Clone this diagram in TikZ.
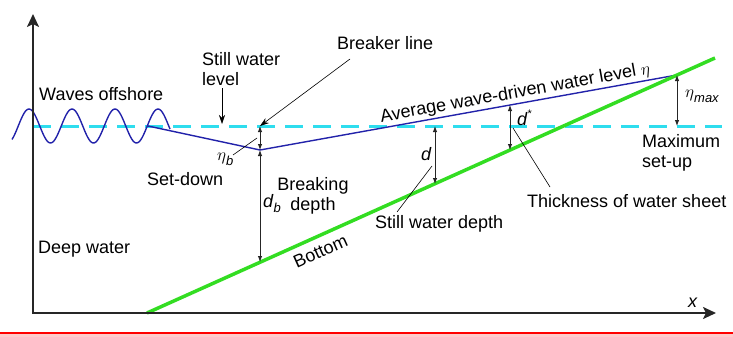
\documentclass[tikz,border=0pt]{standalone}
\usepackage{fontspec}
\setmainfont{Liberation Sans}
\usetikzlibrary{arrows.meta,positioning,calc}
\definecolor{swlcyan}{HTML}{2EDDEE}
\definecolor{setblue}{HTML}{2222AA}
\definecolor{bedgreen}{HTML}{33DD22}
\newcommand{\lowidx}[1]{\raisebox{-0.55ex}{\fontsize{13}{13}\selectfont\itshape #1}}

\begin{document}
\begin{tikzpicture}[x=1pt,y=-1pt,
    every node/.style={font=\fontsize{18}{20}\selectfont, inner sep=0pt},
    axis/.style={line width=2.2pt, black!85},
    dim/.style={line width=0.9pt, black!85, {Latex[length=6pt,width=4.5pt]}-{Latex[length=6pt,width=4.5pt]}},
    lead/.style={line width=0.6pt, black},
    pointer/.style={lead, -{Stealth[length=9pt,width=6pt]}}]
    \useasboundingbox (0,0) rectangle (733,337);
    % frame of the sketch
    \coordinate (origin) at (33,313);
    \coordinate (ytip) at (33,14);
    \coordinate (xtip) at (716,313);
    \coordinate (swl0) at (33,126);
    \coordinate (swl1) at (722,126);
    \coordinate (toe) at (147,313);
    \coordinate (shore) at (715,58);
    % water levels
    \coordinate (setstart) at (148,126);
    \coordinate (brk) at (260,150);
    \coordinate (brkswl) at (260,126);
    \coordinate (brkbed) at (260,262);
    \coordinate (runup) at (677,75);
    \coordinate (runswl) at (677,126);
    \coordinate (dswl) at (435,126);
    \coordinate (dbed) at (435,184);
    \coordinate (dsttop) at (510,105);
    \coordinate (dstbed) at (510,150);
    \fill[red!20] (0,334) rectangle (733,337);
    \draw[red, line width=2pt] (0,333) -- (733,333);
    \draw[swlcyan, line width=3pt, dash pattern=on 18pt off 10pt] (swl0) -- (swl1);
    \draw[setblue, line width=1.4pt] plot[domain=12:170, samples=120] (\x, {126-17*cos(8.372*(\x-29))});
    \draw[setblue, line width=1.4pt] (setstart) -- (brk) -- (runup);
    \draw[bedgreen, line width=3.5pt] (toe) -- (shore);
    \draw[axis, {Stealth[length=13pt,width=12pt,inset=3pt]}-{Stealth[length=13pt,width=12pt,inset=3pt]}] (ytip) -- (origin) -- (xtip);
    \draw[dim] (brkswl) -- (brk);
    \draw[dim] (brk) -- (brkbed);
    \draw[dim] (runup) -- (runswl);
    \draw[dim] (dswl) -- (dbed);
    \draw[dim] (dsttop) -- (dstbed);
    % labels
    \node[anchor=base west] (waves) at (39,100) {Waves offshore};
    \node[anchor=north west, align=left] (swllbl) at (202,52) {Still water\\level};
    \node[anchor=base west] (brklbl) at (337,49) {Breaker line};
    \node[anchor=base west] (etab) at (217,160) {$\eta$\lowidx{b}};
    \node[anchor=base west] (setdown) at (147,185) {Set-down};
    \node[anchor=north, align=center] (brkdepth) at (313,177) {Breaking\\depth};
    \node[anchor=base west] (dblbl) at (263,207) {\textit{d}\lowidx{b}};
    \node[anchor=base west] (deep) at (38,253) {Deep water};
    \node[anchor=base, rotate=24.2] (bottom) at (323,257) {Bottom};
    \node[anchor=base, rotate=10.2] (avg) at (516,98) {Average wave-driven water level $\eta$};
    \node[anchor=base west] (etamax) at (685,97) {$\eta$\lowidx{max}};
    \node[anchor=north west, align=left] (maxsetup) at (642,134) {Maximum\\set-up};
    \node[anchor=base west] (dlbl) at (421,160) {\textit{d}};
    \node[anchor=base west] (dstar) at (517,125) {\textit{d}\raisebox{0.8ex}{\fontsize{11}{11}\selectfont *}};
    \node[anchor=base west] (swdepth) at (375,228) {Still water depth};
    \node[anchor=base west] (thick) at (527,207) {Thickness of water sheet};
    \node[anchor=base west] (xlbl) at (688,307) {\textit{x}};
    % leaders
    \coordinate (brkfoot) at (350,59);
    \coordinate (swlfoot) at (222,88);
    \coordinate (swlhead) at (222,124);
    \draw[pointer] (brkfoot) -- (brkswl);
    \draw[pointer] (swlfoot) -- (swlhead);
    \draw[lead] (233,155) -- (257,138);
    \draw[lead] (432,166) -- (397,212);
    \draw[lead] (513,128) -- (550,187);
\end{tikzpicture}
\end{document}
